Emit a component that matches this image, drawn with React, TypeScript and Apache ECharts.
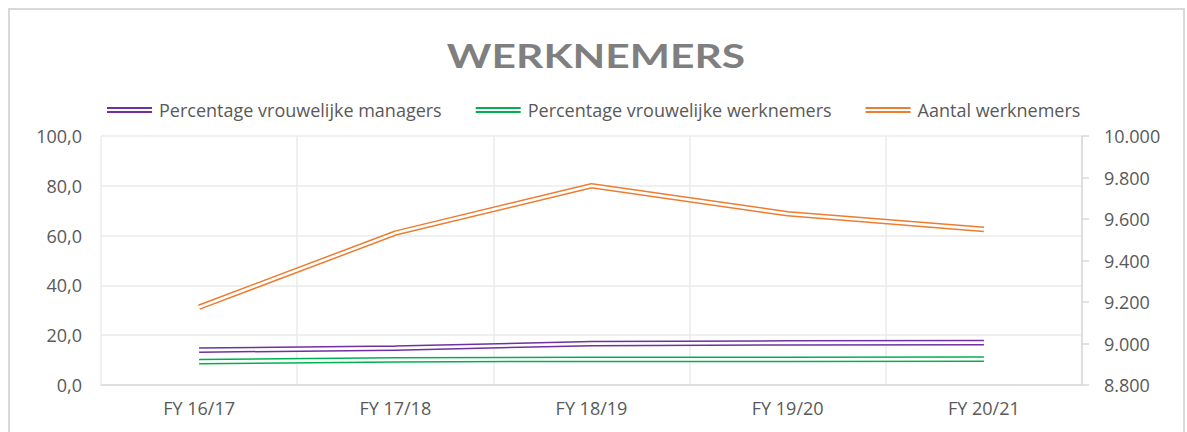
import React, { useEffect, useRef } from "react";
import * as echarts from "echarts";

const categories = ["FY 16/17", "FY 17/18", "FY 18/19", "FY 19/20", "FY 20/21"];
const femaleManagers = [14.0, 14.8, 16.6, 16.9, 17.0];
const femaleEmployees = [9.4, 10.1, 10.3, 10.3, 10.4];
const employeeCount = [9175, 9532, 9760, 9625, 9550];
const seriesNames = [
  "Percentage vrouwelijke managers",
  "Percentage vrouwelijke werknemers",
  "Aantal werknemers",
];
const colors = ["#7030a0", "#00b050", "#ed7d31"];
const titleText = "WERKNEMERS";

const FONT = "'Open Sans'";
const TITLE_FONT = "Lato";
const LABEL = "#595959";

export default function App() {
  const ref = useRef<HTMLDivElement>(null);
  useEffect(() => {
    document.body.style.margin = "0";
    document.body.style.overflow = "hidden";
    const chart = echarts.init(ref.current!, null, { renderer: "svg" });
    const datasets = [femaleManagers, femaleEmployees, employeeCount];
    const series: any[] = [];
    datasets.forEach((d, i) => {
      const yAxisIndex = i === 2 ? 1 : 0;
      series.push({
        name: seriesNames[i],
        type: "line",
        yAxisIndex,
        data: d,
        symbol: "none",
        color: colors[i],
        itemStyle: { color: colors[i] },
        lineStyle: { color: colors[i], width: 5.6 },
        z: 2 + i * 2,
      });
      series.push({
        name: "_inner" + i,
        type: "line",
        yAxisIndex,
        data: d,
        symbol: "none",
        lineStyle: { color: "#ffffff", width: 2.6 },
        z: 3 + i * 2,
        silent: true,
      });
    });
    chart.setOption({
      animation: false,
      textStyle: { fontFamily: FONT },
      graphic: [
        {
          type: "text",
          x: 586,
          y: 46,
          scaleX: 1.33,
          style: {
            text: titleText,
            font: `bold 32px ${TITLE_FONT}`,
            fill: "#7f7f7f",
            textAlign: "center",
            textVerticalAlign: "middle",
          },
        },
      ],
      legend: {
        data: seriesNames,
        left: 92,
        top: 86,
        itemWidth: 45,
        itemHeight: 6,
        itemGap: 34,
        icon: "path://M0,0H45V2H0Z M0,4H45V6H0Z",
        itemStyle: { borderWidth: 0 },
        textStyle: { fontFamily: FONT, fontSize: 18, color: LABEL, padding: [0, 0, 0, 2] },
      },
      grid: { left: 91, top: 126, right: 101, bottom: 47, containLabel: false },
      xAxis: {
        type: "category",
        data: categories,
        boundaryGap: true,
        axisLine: { show: true, lineStyle: { color: "#d9d9d9", width: 1.5 } },
        axisTick: { show: false },
        splitLine: { show: true, lineStyle: { color: "#ebebeb", width: 1.5 } },
        axisLabel: { color: LABEL, fontSize: 18, fontFamily: FONT, margin: 14 },
      },
      yAxis: [
        {
          type: "value",
          min: 0,
          max: 100,
          interval: 20,
          axisLine: { show: false },
          axisTick: { show: false },
          splitLine: { show: true, lineStyle: { color: "#ebebeb", width: 1.5 } },
          axisLabel: {
            color: LABEL,
            fontSize: 18,
            fontFamily: FONT,
            margin: 19,
            formatter: (v: number) => v.toFixed(1).replace(".", ","),
          },
        },
        {
          type: "value",
          min: 8800,
          max: 10000,
          interval: 200,
          position: "right",
          axisLine: { show: true, lineStyle: { color: "#d9d9d9", width: 1.5 } },
          axisTick: { show: true, length: 7, lineStyle: { color: "#d9d9d9", width: 1.5 } },
          splitLine: { show: false },
          axisLabel: {
            color: LABEL,
            fontSize: 18,
            fontFamily: FONT,
            margin: 22,
            formatter: (v: number) => {
              const s = Math.round(v).toString();
              return s.replace(/\B(?=(\d{3})+(?!\d))/g, ".");
            },
          },
        },
      ],
      series,
    });
    return () => chart.dispose();
  }, []);
  return (
    <div
      style={{
        marginLeft: 8,
        marginTop: 8,
        width: 1177,
        height: 424,
        boxSizing: "border-box",
        border: "2px solid #d9d9d9",
        borderBottom: "none",
        background: "#fff",
      }}
    >
      <div ref={ref} style={{ width: 1173, height: 422 }} />
    </div>
  );
}
